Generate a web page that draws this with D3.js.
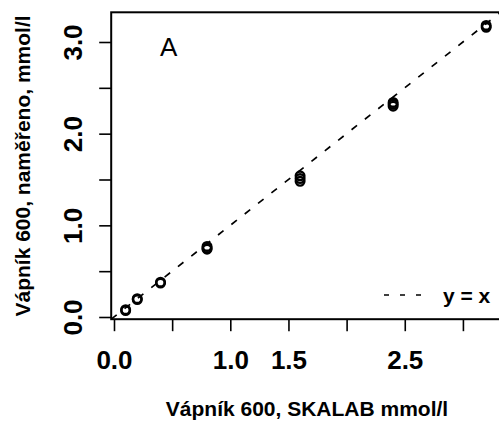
<!DOCTYPE html>
<html>
<head>
<meta charset="utf-8">
<script src="https://cdn.jsdelivr.net/npm/d3@7"></script>
<style>
  body { margin: 0; background: #fff; }
  text { font-family: "Liberation Sans", Arial, sans-serif; }
</style>
</head>
<body>
<div class="chart"></div>
<script>
// reference values (SKALAB) and measured values, replicates per level
var refValues = [0.1, 0.1, 0.2, 0.2, 0.4, 0.4, 0.8, 0.8, 0.8, 1.6, 1.6, 1.6, 2.4, 2.4, 2.4, 3.2, 3.2];
var measValues = [0.07, 0.08, 0.19, 0.20, 0.37, 0.38, 0.74, 0.75, 0.77, 1.48, 1.51, 1.54, 2.30, 2.32, 2.34, 3.16, 3.18];
var xTicks = [0, 0.5, 1, 1.5, 2, 2.5, 3];
var xTickLabels = ["0.0", "", "1.0", "1.5", "", "2.5", ""];
var yTicks = [0, 0.5, 1, 1.5, 2, 2.5, 3];
var yTickLabels = ["0.0", "", "1.0", "", "2.0", "", "3.0"];
var domain = [-0.024, 3.324];

var svgWidth = 499;
var svgHeight = 428;
var margin = {top: 12.3, left: 111.2};
var width = 389.4;
var height = 306.9;

var svg = d3.select(".chart")
  .append("svg")
  .attr("width", svgWidth)
  .attr("height", svgHeight);

var chartGroup = svg.append("g").attr("transform", `translate(${margin.left}, ${margin.top})`);

var xScale = d3.scaleLinear().domain(domain).range([0, width]);
var yScale = d3.scaleLinear().domain(domain).range([height, 0]);

// x axis
var bottomAxis = d3.axisBottom(xScale)
  .tickValues(xTicks)
  .tickSize(12)
  .tickFormat((d, i) => xTickLabels[i]);

var gx = chartGroup.append("g")
  .attr("transform", `translate(0, ${height})`)
  .call(bottomAxis);
gx.select(".domain").remove();
gx.selectAll("line").attr("stroke", "#000").attr("stroke-width", 1.6);
gx.selectAll("text")
  .attr("y", 50)
  .attr("dy", 0)
  .attr("fill", "#000")
  .style("font-size", "26px")
  .style("font-weight", "bold");

// y axis
var leftAxis = d3.axisLeft(yScale)
  .tickValues(yTicks)
  .tickSize(12)
  .tickFormat((d, i) => yTickLabels[i]);

var gy = chartGroup.append("g").call(leftAxis);
gy.select(".domain").remove();
gy.selectAll("line").attr("stroke", "#000").attr("stroke-width", 1.6);
gy.selectAll("text")
  .attr("transform", "rotate(-90)")
  .attr("x", 0)
  .attr("y", -29)
  .attr("dy", 0)
  .attr("text-anchor", "middle")
  .attr("fill", "#000")
  .style("font-size", "26px")
  .style("font-weight", "bold");

// clip for the identity line
svg.append("clipPath").attr("id", "plotclip")
  .append("rect").attr("width", width).attr("height", height);

var line = d3.line()
  .x(d => xScale(d))
  .y(d => yScale(d));

chartGroup.append("path")
  .datum(domain)
  .attr("clip-path", "url(#plotclip)")
  .attr("d", line)
  .attr("fill", "none")
  .attr("stroke", "#000")
  .attr("stroke-width", 1.7)
  .attr("stroke-dasharray", "7,10");

// points
chartGroup.selectAll("circle")
  .data(refValues)
  .enter()
  .append("circle")
  .attr("cx", d => xScale(d))
  .attr("cy", (d, i) => yScale(measValues[i]))
  .attr("r", 4.3)
  .attr("fill", "none")
  .attr("stroke", "#000")
  .attr("stroke-width", 2.4);

// box
chartGroup.append("rect")
  .attr("width", width)
  .attr("height", height)
  .attr("fill", "none")
  .attr("stroke", "#000")
  .attr("stroke-width", 2);

// panel letter
chartGroup.append("text")
  .attr("x", 160 - margin.left)
  .attr("y", 56 - margin.top)
  .style("font-size", "26px")
  .text("A");

// legend
chartGroup.append("line")
  .attr("x1", 384 - margin.left)
  .attr("x2", 424 - margin.left)
  .attr("y1", 295 - margin.top)
  .attr("y2", 295 - margin.top)
  .attr("stroke", "#000")
  .attr("stroke-width", 1.5)
  .attr("stroke-dasharray", "5,11");

chartGroup.append("text")
  .attr("x", 443 - margin.left)
  .attr("y", 303 - margin.top)
  .style("font-size", "21px")
  .style("font-weight", "bold")
  .text("y = x");

// axis titles
svg.append("text")
  .attr("x", 307)
  .attr("y", 416)
  .attr("text-anchor", "middle")
  .style("font-size", "21px")
  .style("font-weight", "bold")
  .text("Vápník 600, SKALAB mmol/l");

svg.append("text")
  .attr("transform", "translate(30, 166) rotate(-90)")
  .attr("text-anchor", "middle")
  .style("font-size", "21px")
  .style("font-weight", "bold")
  .text("Vápník 600, naměřeno, mmol/l");
</script>
</body>
</html>
